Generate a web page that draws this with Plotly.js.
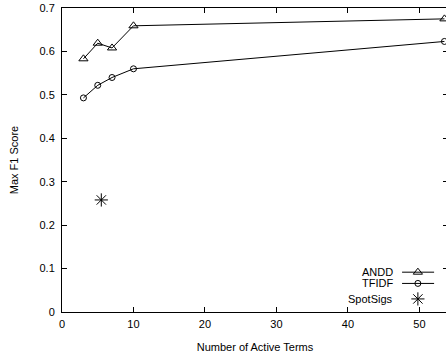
<!DOCTYPE html>
<html>
<head>
<meta charset="utf-8">
<script src="https://cdn.plot.ly/plotly-3.0.1.min.js"></script>
<style>
html,body{margin:0;padding:0;overflow:hidden;background:#fff;width:446px;height:354px;}
#chart{width:450px;height:354px;}
</style>
</head>
<body>
<div id="chart"></div>
<script>
// Data
var activeTerms = [3, 5, 7, 10, 53.5];
var anddF1 = [0.583, 0.619, 0.608, 0.659, 0.675];
var tfidfF1 = [0.493, 0.522, 0.540, 0.560, 0.623];
var spotSigsX = [5.5];
var spotSigsF1 = [0.258];
var seriesNames = ['ANDD', 'TFIDF', 'SpotSigs'];
var xTicks = [0, 10, 20, 30, 40, 50];
var yTicks = [0, 0.1, 0.2, 0.3, 0.4, 0.5, 0.6, 0.7];

var font = {family: 'Liberation Sans, Arial, sans-serif', size: 11, color: '#000'};

var traces = [
  {x: activeTerms, y: anddF1, mode: 'lines+markers', name: seriesNames[0],
   line: {color: '#000', width: 1},
   marker: {symbol: 'triangle-up-open', size: 8, color: '#000', line: {width: 1}},
   cliponaxis: false},
  {x: activeTerms, y: tfidfF1, mode: 'lines+markers', name: seriesNames[1],
   line: {color: '#000', width: 1},
   marker: {symbol: 'circle-open', size: 6, color: '#000', line: {width: 1}},
   cliponaxis: false},
  {x: spotSigsX, y: spotSigsF1, mode: 'markers', name: seriesNames[2],
   marker: {symbol: 'asterisk-open', size: 11, color: '#000', line: {width: 1, color: '#000'}}}
];

// Custom legend (text left of sample, as in reference)
var legY = [0.131, 0.094, 0.043];
var legSymbols = ['triangle-up-open', 'circle-open', 'asterisk-open'];
var legSizes = [8, 6, 11];
var legLines = [true, true, false];
var annotations = [];
var shapes = [];
for (var i = 0; i < seriesNames.length; i++) {
  annotations.push({xref: 'paper', yref: 'paper', x: 0.862, y: legY[i], text: seriesNames[i],
    showarrow: false, xanchor: 'right', yanchor: 'middle', font: font});
  if (legLines[i]) {
    shapes.push({type: 'line', xref: 'paper', yref: 'paper', x0: 0.881, x1: 0.964, y0: legY[i], y1: legY[i],
      line: {color: '#000', width: 1}});
  }
  traces.push({x: [0.922], y: [legY[i]], xaxis: 'x2', yaxis: 'y2', mode: 'markers', showlegend: false,
    hoverinfo: 'skip', cliponaxis: false,
    marker: {symbol: legSymbols[i], size: legSizes[i], color: '#000', line: {width: 1, color: '#000'}}});
}

var layout = {
  width: 450, height: 354,
  margin: {l: 62, r: 2, t: 8, b: 42},
  paper_bgcolor: '#fff', plot_bgcolor: '#fff',
  showlegend: false,
  font: font,
  xaxis: {range: [0, 54], tickvals: xTicks, ticks: 'inside', ticklen: 5, tickcolor: '#000',
    showline: true, linecolor: '#000', linewidth: 1, mirror: 'ticks', showgrid: false, zeroline: false,
    ticklabelstandoff: 2,
    tickfont: font, title: {text: 'Number of Active Terms', font: font, standoff: 14}},
  yaxis: {range: [0, 0.7], tickvals: yTicks, ticktext: yTicks.map(function(v){return v===0?'0':String(v);}),
    ticks: 'inside', ticklen: 5, tickcolor: '#000',
    showline: true, linecolor: '#000', linewidth: 1, mirror: 'ticks', showgrid: false, zeroline: false,
    ticklabelstandoff: 4,
    tickfont: font, title: {text: 'Max F1 Score', font: font, standoff: 18}},
  xaxis2: {overlaying: 'x', range: [0, 1], visible: false, fixedrange: true},
  yaxis2: {overlaying: 'y', range: [0, 1], visible: false, fixedrange: true},
  annotations: annotations,
  shapes: shapes
};

Plotly.newPlot('chart', traces, layout, {displayModeBar: false, staticPlot: true});
</script>
</body>
</html>
